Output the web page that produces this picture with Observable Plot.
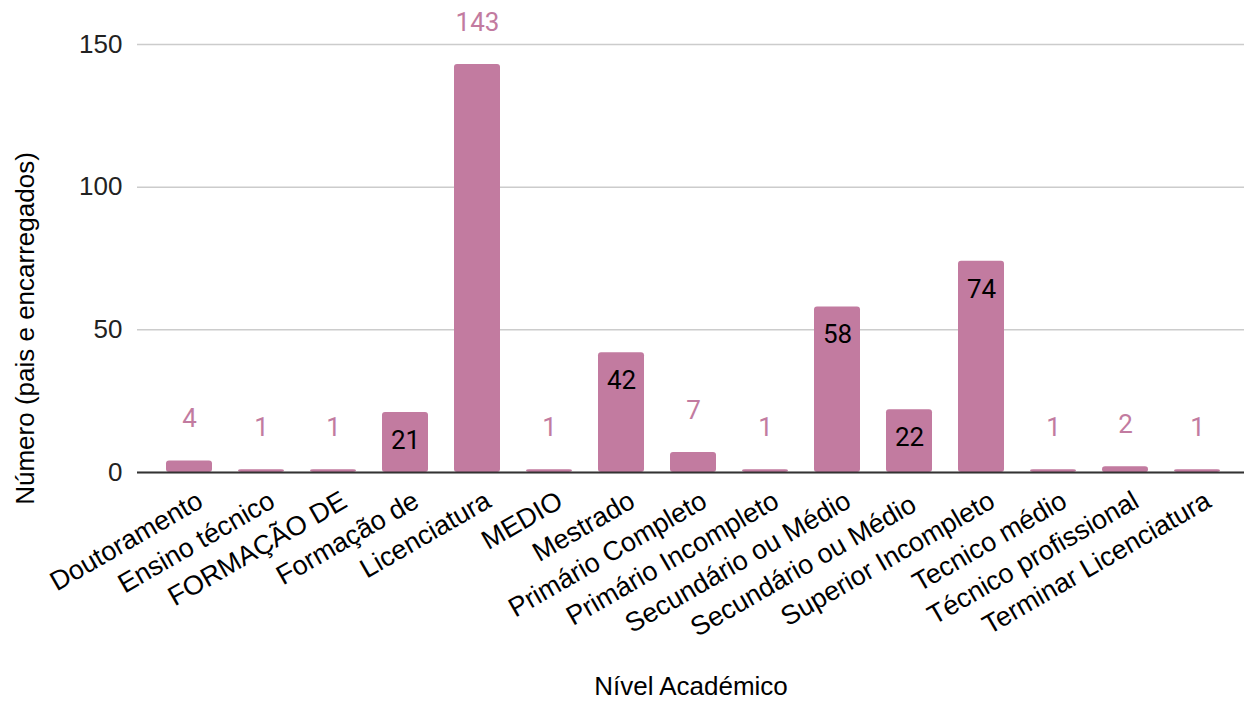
<!DOCTYPE html>
<html>
<head>
<meta charset="utf-8">
<script src="https://cdn.jsdelivr.net/npm/d3@7"></script>
<script src="https://cdn.jsdelivr.net/npm/@observablehq/plot@0.6"></script>
<style>
  html, body { margin: 0; padding: 0; background: #fff; }
  #chart svg { display: block; }
</style>
</head>
<body>
<div id="chart"></div>
<script>
const categories = [
  "Doutoramento", "Ensino técnico", "FORMAÇÃO DE", "Formação de", "Licenciatura",
  "MEDIO", "Mestrado", "Primário Completo", "Primário Incompleto", "Secundário ou Médio",
  "Secundário ou Médio ", "Superior Incompleto", "Tecnico médio", "Técnico profissional", "Terminar Licenciatura"
];
const values = [4, 1, 1, 21, 143, 1, 42, 7, 1, 58, 22, 74, 1, 2, 1];
const labelInside = [false, false, false, true, false, false, true, false, false, true, true, true, false, false, false];
const yTicks = [0, 50, 100, 150];
const xTitle = "Nível Académico";
const yTitle = "Número (pais e encarregados)";

const data = categories.map((c, i) => ({cat: c, v: values[i], inside: labelInside[i]}));
const pink = "#c27ba0";

const chart = Plot.plot({
  width: 1244,
  height: 702,
  marginLeft: 137,
  marginRight: 0,
  marginTop: 44,
  marginBottom: 230,
  style: {fontFamily: "'Liberation Sans', Arial, sans-serif", fontSize: "26px", color: "#000", background: "#fff"},
  x: {domain: categories, range: [148.5, 1237], paddingInner: 0.36, paddingOuter: 0.18, label: null},
  y: {domain: [0, 150], label: null},
  marks: [
    Plot.gridY(yTicks, {stroke: "#cccccc", strokeOpacity: 1, strokeWidth: 1.5}),
    Plot.barY(data, {x: "cat", y: "v", fill: pink, rx: 3}),
    Plot.ruleY([0], {stroke: "#333", strokeWidth: 2}),
    Plot.axisY(yTicks, {tickSize: 0, tickPadding: 15, fontSize: 26, fill: "#222", label: null}),
    Plot.axisX({tickSize: 0, tickRotate: -30, tickPadding: 10, dx: 11, dy: 16, fontSize: 27, fill: "#000", label: null}),
    Plot.text(data.filter(d => !d.inside), {x: "cat", y: "v", text: d => String(d.v), dy: -42, fill: pink, fontSize: 26, fontFamily: "Roboto, sans-serif", lineAnchor: "middle"}),
    Plot.text(data.filter(d => d.inside), {x: "cat", y: "v", text: d => String(d.v), dy: 28, fill: "#000", fontSize: 26, fontFamily: "Roboto, sans-serif", lineAnchor: "middle"}),
    Plot.text([xTitle], {frameAnchor: "bottom", dy: 214, fontSize: 26, fill: "#000", lineAnchor: "middle", textAnchor: "middle"}),
    Plot.text([yTitle], {frameAnchor: "left", rotate: -90, dx: -112, dy: 70, fontSize: 26, fill: "#000", lineAnchor: "middle", textAnchor: "middle"})
  ]
});
document.getElementById("chart").appendChild(chart);
</script>
</body>
</html>
